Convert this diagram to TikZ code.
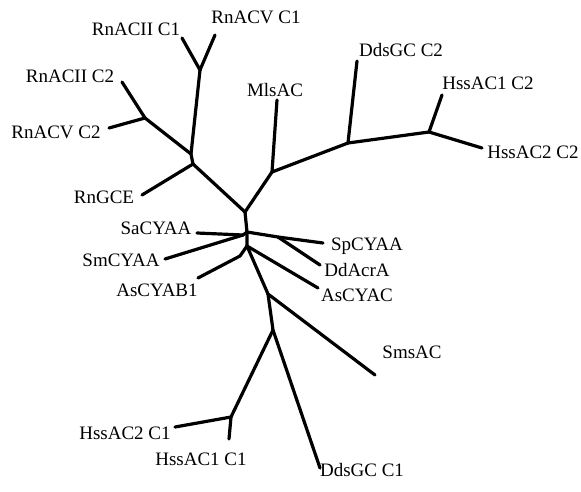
\documentclass[tikz,border=0pt]{standalone}
\usepackage{fontspec}
\setmainfont{Liberation Serif}
\begin{document}
\begin{tikzpicture}[x=1pt,y=-1pt,
  br/.style={line width=3.2pt,line cap=round,line join=round},
  lab/.style={font=\fontsize{19}{20}\selectfont,inner sep=0pt}]
\useasboundingbox (0,0) rectangle (581,491);
% internal nodes
\coordinate (A1) at (200,70);
\coordinate (B) at (145,118);
\coordinate (C) at (191,154);
\coordinate (D) at (193,164);
\coordinate (E) at (245,212);
\coordinate (F) at (272,172);
\coordinate (G) at (348,143);
\coordinate (H) at (429,132);
\coordinate (I) at (247,232);
\coordinate (I2) at (243,235);
\coordinate (J) at (247,246);
\coordinate (K) at (240,256);
\coordinate (L) at (278,237);
\coordinate (M) at (268,294);
\coordinate (N) at (273,330);
\coordinate (O) at (231,417);
% leaves
\coordinate (l1) at (182,38);
\coordinate (l2) at (215,35);
\coordinate (l3) at (122,82);
\coordinate (l4) at (109,128);
\coordinate (l5) at (142,195);
\coordinate (l6) at (277,100);
\coordinate (l7) at (357,61);
\coordinate (l8) at (442,95);
\coordinate (l9) at (482,148);
\coordinate (l10) at (197,233);
\coordinate (l11) at (165,259);
\coordinate (l12) at (198,278);
\coordinate (l13) at (323,243);
\coordinate (l14) at (320,265);
\coordinate (l15) at (318,288);
\coordinate (l16) at (375,375);
\coordinate (l17) at (175,427);
\coordinate (l18) at (229,439);
\coordinate (l19) at (320,468);
% branches
\draw[br] (l1) -- (A1) -- (l2);
\draw[br] (A1) -- (C);
\draw[br] (l3) -- (B) -- (l4);
\draw[br] (B) -- (C) -- (D);
\draw[br] (l5) -- (D) -- (E);
\draw[br] (E) -- (F) -- (l6);
\draw[br] (F) -- (G) -- (l7);
\draw[br] (G) -- (H) -- (l8);
\draw[br] (H) -- (l9);
\draw[br] (E) -- (I) -- (J);
\draw[br] (l10) -- (I2) -- (I);
\draw[br] (l11) -- (I2);
\draw[br] (I) -- (L) -- (l13);
\draw[br] (L) -- (l14);
\draw[br] (J) -- (l15);
\draw[br] (l12) -- (K) -- (J);
\draw[br] (J) -- (M) -- (l16);
\draw[br] (M) -- (N) -- (l19);
\draw[br] (N) -- (O) -- (l17);
\draw[br] (O) -- (l18);
% labels
\node[lab] (t1) at (136,29) {RnACII C1};
\node[lab] (t2) at (256,17) {RnACV C1};
\node[lab] (t3) at (70,76) {RnACII C2};
\node[lab] (t4) at (56,132) {RnACV C2};
\node[lab] (t5) at (104,197) {RnGCE};
\node[lab] (t6) at (275,90) {MlsAC};
\node[lab] (t7) at (401,50) {DdsGC C2};
\node[lab] (t8) at (488,83) {HssAC1 C2};
\node[lab] (t9) at (533,152) {HssAC2 C2};
\node[lab] (t10) at (156,228) {SaCYAA};
\node[lab] (t11) at (121,260) {SmCYAA};
\node[lab] (t12) at (157,290) {AsCYAB1};
\node[lab] (t13) at (367,246) {SpCYAA};
\node[lab] (t14) at (357,270) {DdAcrA};
\node[lab] (t15) at (357,295) {AsCYAC};
\node[lab] (t16) at (412,352) {SmsAC};
\node[lab] (t17) at (125,433) {HssAC2 C1};
\node[lab] (t18) at (201,459) {HssAC1 C1};
\node[lab] (t19) at (362,470) {DdsGC C1};
\end{tikzpicture}
\end{document}
